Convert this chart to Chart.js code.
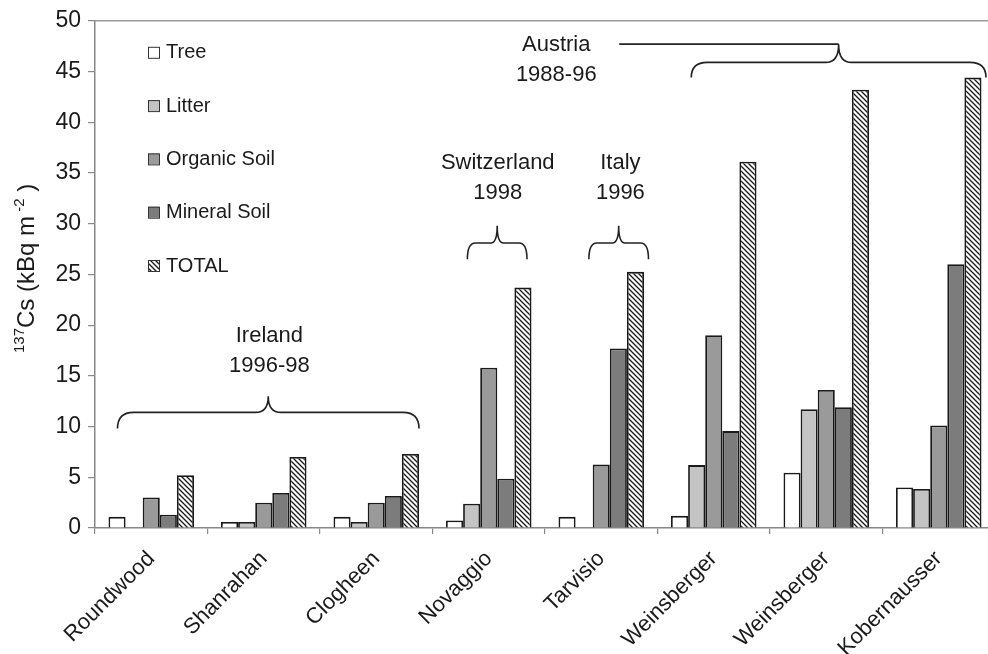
<!DOCTYPE html>
<html>
<head>
<meta charset="utf-8">
<script src="https://cdn.jsdelivr.net/npm/chart.js@4/dist/chart.umd.min.js"></script>
<style>
html,body{margin:0;padding:0;background:#fff;overflow:hidden;}
#wrap{width:1000px;height:654px;}
</style>
</head>
<body>
<div id="wrap"><canvas id="c" width="1000" height="654"></canvas></div>
<script>
// ---- data ----
const categories = ['Roundwood','Shanrahan','Clogheen','Novaggio','Tarvisio','Weinsberger','Weinsberger','Kobernausser'];
const tree        = [1.1, 0.6, 1.1, 0.75, 1.1, 1.2, 5.45, 4.0];
const litter      = [0,   0.6, 0.6, 2.4,  0,   6.2, 11.7, 3.85];
const organicSoil = [3.0, 2.5, 2.5, 15.8, 6.25, 19.0, 13.6, 10.1];
const mineralSoil = [1.3, 3.45, 3.15, 4.85, 17.7, 9.55, 11.9, 26.0];
const total       = [5.2, 7.0, 7.3, 23.7, 25.25, 36.1, 43.2, 44.4];
const seriesNames = ['Tree','Litter','Organic Soil','Mineral Soil','TOTAL'];
const yTicks = [0,5,10,15,20,25,30,35,40,45,50];

// group annotations (positions in category units / axis values)
const groupLabels = [
  {l1:'Ireland', l2:'1996-98', from:-0.3, to:2.38, tip:9.8, bar:11.4, peak:13.0, tx:1.05, ty1:18.9, ty2:16.0, r:16},
  {l1:'Switzerland', l2:'1998', from:2.81, to:3.34, tip:26.5, bar:28.1, peak:29.8, tx:3.08, ty1:36.0, ty2:33.0, r:8},
  {l1:'Italy', l2:'1996', from:3.89, to:4.42, tip:26.5, bar:28.1, peak:29.8, tx:4.17, ty1:36.0, ty2:33.0, r:8},
  {l1:'Austria', l2:'1988-96', from:4.80, to:7.42, tip:44.4, bar:45.9, peak:47.7, tx:3.6, ty1:47.6, ty2:44.7, r:16, leader:4.16}
];

// ---- styling ----
const FONT = '"Liberation Sans", Arial, sans-serif';
function hatch(){
  const s = 5, cv = document.createElement('canvas');
  cv.width = s; cv.height = s;
  const g = cv.getContext('2d');
  g.fillStyle = '#fff'; g.fillRect(0,0,s,s);
  g.strokeStyle = '#1a1a1a'; g.lineWidth = 1.3;
  g.beginPath();
  g.moveTo(-1,-1); g.lineTo(s+1,s+1);
  g.moveTo(-1,s-1); g.lineTo(1,s+1);
  g.moveTo(s-1,-1); g.lineTo(s+1,1);
  g.stroke();
  return g.createPattern(cv,'repeat');
}
const fills = ['#ffffff','#c4c4c4','#9a9a9a','#7c7c7c', hatch()];
const values = [tree, litter, organicSoil, mineralSoil, total];

const datasets = seriesNames.map((n,i)=>({
  label:n, data:values[i], backgroundColor:fills[i],
  borderColor:'#1a1a1a', borderWidth:1.8, borderSkipped:'bottom',
  categoryPercentage:0.76, barPercentage:1.0
}));

const deco = {
  id:'deco',
  afterDatasetsDraw(chart){
    const ctx = chart.ctx, a = chart.chartArea;
    const xs = chart.scales.x, ys = chart.scales.y;
    const step = xs.getPixelForValue(1) - xs.getPixelForValue(0);
    const px = u => xs.getPixelForValue(0) + u*step;
    ctx.save();
    // top border of plot area
    ctx.strokeStyle = '#999'; ctx.lineWidth = 1.5;
    ctx.beginPath(); ctx.moveTo(a.left, a.top); ctx.lineTo(a.right+10, a.top); ctx.stroke();
    // legend
    datasets.forEach((d,i)=>{
      const bx = a.left + 53, by = a.top + 26 + i*53.3;
      ctx.fillStyle = d.backgroundColor; ctx.fillRect(bx, by, 11, 11);
      ctx.strokeStyle = '#333'; ctx.lineWidth = 1; ctx.strokeRect(bx+0.5, by+0.5, 11, 11);
      ctx.fillStyle = '#1a1a1a'; ctx.font = '20px ' + FONT;
      ctx.textAlign = 'left'; ctx.textBaseline = 'middle';
      ctx.fillText(d.label, bx + 18, by + 6);
    });
    // braces and group labels
    ctx.strokeStyle = '#222'; ctx.lineWidth = 1.6;
    groupLabels.forEach(gl=>{
      const x1 = px(gl.from), x2 = px(gl.to), xm = (x1+x2)/2;
      const yt = ys.getPixelForValue(gl.tip), yb = ys.getPixelForValue(gl.bar), yp = ys.getPixelForValue(gl.peak);
      const r = gl.r;
      ctx.beginPath();
      ctx.moveTo(x1, yt);
      ctx.quadraticCurveTo(x1, yb, x1 + r, yb);
      ctx.lineTo(xm - r*0.8, yb);
      ctx.quadraticCurveTo(xm, yb, xm, yp);
      ctx.quadraticCurveTo(xm, yb, xm + r*0.8, yb);
      ctx.lineTo(x2 - r, yb);
      ctx.quadraticCurveTo(x2, yb, x2, yt);
      ctx.stroke();
      if (gl.leader !== undefined){
        ctx.beginPath(); ctx.moveTo(px(gl.leader), yp); ctx.lineTo(xm, yp); ctx.stroke();
      }
      ctx.fillStyle = '#1a1a1a'; ctx.font = '22px ' + FONT;
      ctx.textAlign = 'center'; ctx.textBaseline = 'middle';
      ctx.fillText(gl.l1, px(gl.tx), ys.getPixelForValue(gl.ty1));
      ctx.fillText(gl.l2, px(gl.tx), ys.getPixelForValue(gl.ty2));
    });
    // y axis title with superscripts
    ctx.translate(26, (a.top + a.bottom)/2 - 6);
    ctx.rotate(-Math.PI/2);
    ctx.fillStyle = '#1a1a1a'; ctx.textBaseline = 'alphabetic'; ctx.textAlign = 'left';
    const parts = [['137',15,-10],['Cs (kBq m',24,0],[' -2',15,-10],[' )',24,0]];
    let w = 0;
    parts.forEach(p=>{ ctx.font = p[1]+'px '+FONT; w += ctx.measureText(p[0]).width; });
    let x = -w/2;
    parts.forEach(p=>{ ctx.font = p[1]+'px '+FONT; ctx.fillText(p[0], x, 8 + p[2]); x += ctx.measureText(p[0]).width; });
    ctx.restore();
  }
};

new Chart(document.getElementById('c'), {
  type:'bar',
  data:{labels:categories, datasets},
  options:{
    responsive:false, animation:false,
    layout:{padding:{top:20, right:5, left:0, bottom:0}},
    plugins:{legend:{display:false}, tooltip:{enabled:false}},
    scales:{
      x:{
        grid:{display:true, drawOnChartArea:false, drawTicks:true, offset:true, tickLength:6, color:'#888', lineWidth:1.2},
        border:{display:true, color:'#888', width:1.5},
        ticks:{font:{family:FONT, size:22}, color:'#1a1a1a', maxRotation:45, minRotation:45, padding:12, autoSkip:false},
        afterFit(s){ s.height = 126; }
      },
      y:{
        min:0, max:50,
        afterBuildTicks(s){ s.ticks = yTicks.map(v=>({value:v})); },
        grid:{display:true, drawOnChartArea:false, drawTicks:true, tickLength:7, color:'#888', lineWidth:1.2},
        border:{display:true, color:'#888', width:1.5},
        ticks:{font:{family:FONT, size:23}, color:'#1a1a1a', padding:7},
        afterFit(s){ s.width = 95; }
      }
    }
  },
  plugins:[deco]
});
</script>
</body>
</html>
